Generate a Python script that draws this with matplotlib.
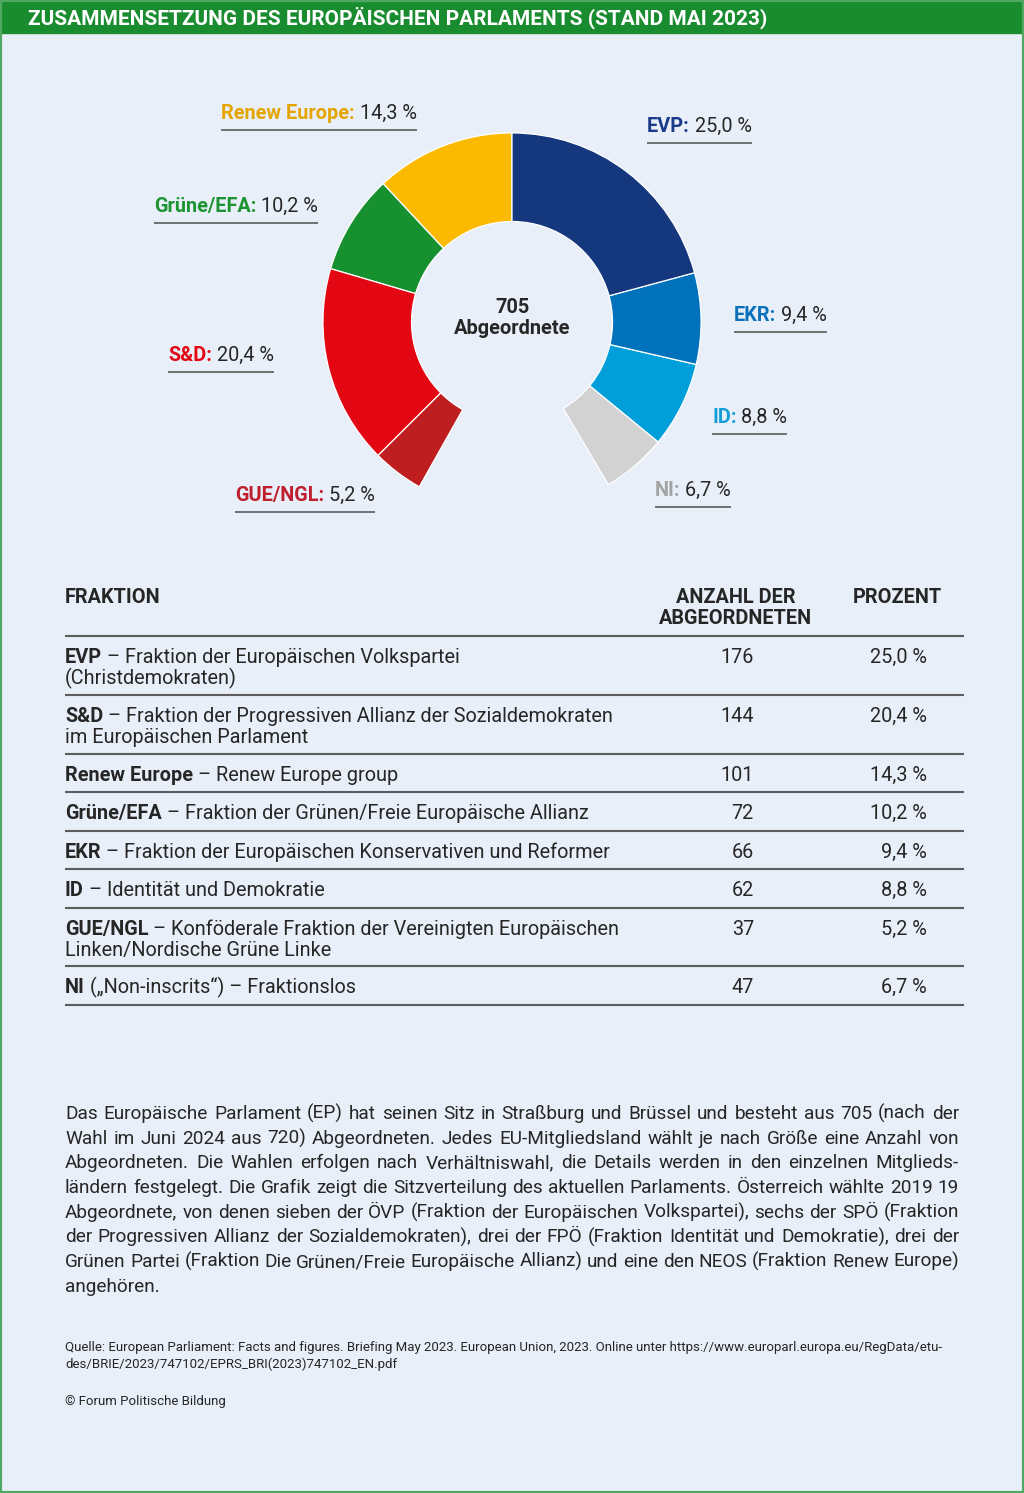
import matplotlib
matplotlib.use("Agg")
import matplotlib.pyplot as plt

# ---------------- data ----------------
parties = ["EVP", "S&D", "Renew Europe", "Grüne/EFA", "EKR", "ID", "GUE/NGL", "NI"]
seats = [176, 144, 101, 72, 66, 62, 37, 47]
percents = ["25,0 %", "20,4 %", "14,3 %", "10,2 %", "9,4 %", "8,8 %", "5,2 %", "6,7 %"]
total_label = ["705", "Abgeordnete"]
table_desc = [
    ["– Fraktion der Europäischen Volkspartei", "(Christdemokraten)"],
    ["– Fraktion der Progressiven Allianz der Sozialdemokraten", "im Europäischen Parlament"],
    ["– Renew Europe group"],
    ["– Fraktion der Grünen/Freie Europäische Allianz"],
    ["– Fraktion der Europäischen Konservativen und Reformer"],
    ["– Identität und Demokratie"],
    ["– Konföderale Fraktion der Vereinigten Europäischen", "Linken/Nordische Grüne Linke"],
    ["(„Non-inscrits“) – Fraktionslos"],
]
table_headers = ["FRAKTION", "ANZAHL DER\nABGEORDNETEN", "PROZENT"]
title = "ZUSAMMENSETZUNG DES EUROPÄISCHEN PARLAMENTS (STAND MAI 2023)"
body_lines = [
    "Das Europäische Parlament (EP) hat seinen Sitz in Straßburg und Brüssel und besteht aus 705 (nach der",
    "Wahl im Juni 2024 aus 720) Abgeordneten. Jedes EU-Mitgliedsland wählt je nach Größe eine Anzahl von",
    "Abgeordneten. Die Wahlen erfolgen nach Verhältniswahl, die Details werden in den einzelnen Mitglieds-",
    "ländern festgelegt. Die Grafik zeigt die Sitzverteilung des aktuellen Parlaments. Österreich wählte 2019 19",
    "Abgeordnete, von denen sieben der ÖVP (Fraktion der Europäischen Volkspartei), sechs der SPÖ (Fraktion",
    "der Progressiven Allianz der Sozialdemokraten), drei der FPÖ (Fraktion Identität und Demokratie), drei der",
    "Grünen Partei (Fraktion Die Grünen/Freie Europäische Allianz) und eine den NEOS (Fraktion Renew Europe)",
    "angehören.",
]
source_lines = [
    "Quelle: European Parliament: Facts and figures. Briefing May 2023. European Union, 2023. Online unter https://www.europarl.europa.eu/RegData/etu-",
    "des/BRIE/2023/747102/EPRS_BRI(2023)747102_EN.pdf",
]
copyright_text = "© Forum Politische Bildung"

# ---------------- styles ----------------
W, H, DPI = 1024, 1493, 100
FONT = ["Roboto", "DejaVu Sans"]
BG = "#E9EFF9"
GREEN = "#1A8C30"
DARK = "#262626"
RULE = "#5C5C5C"

wedge_colors = {"EVP": "#14377D", "S&D": "#E30613", "Renew Europe": "#FBBA00",
                "Grüne/EFA": "#17902F", "EKR": "#0071BB", "ID": "#009FDA",
                "GUE/NGL": "#BE1E20", "NI": "#D2D2D2"}
label_colors = {"EVP": "#1A3A8A", "S&D": "#E30613", "Renew Europe": "#E5A500",
                "Grüne/EFA": "#1C9432", "EKR": "#0A72BA", "ID": "#129FD9",
                "GUE/NGL": "#BE1E2D", "NI": "#A3A3A3"}
# label anchor: (left x, underline y) in px
label_pos = {"EVP": (647, 143), "S&D": (168, 372), "Renew Europe": (221, 130),
             "Grüne/EFA": (154, 223), "EKR": (734, 332), "ID": (712, 434),
             "GUE/NGL": (235, 512), "NI": (655, 507)}
# counter-clockwise order from the top, None = open gap at the bottom
ring_order = ["Renew Europe", "Grüne/EFA", "S&D", "GUE/NGL", None, "NI", "ID", "EKR", "EVP"]
GAP_DEG = 60
CX, CY, R_OUT, R_IN = 512, 322, 190, 101

fig = plt.figure(figsize=(W / DPI, H / DPI), dpi=DPI)
fig.patch.set_facecolor(BG)
ax = fig.add_axes([0, 0, 1, 1])
ax.set_xlim(0, W)
ax.set_ylim(H, 0)
ax.axis("off")
renderer = fig.canvas.get_renderer()


def tw(s, size, weight="normal"):
    t = ax.text(0, 0, s, fontsize=size, fontweight=weight, family=FONT)
    w = t.get_window_extent(renderer).width
    t.remove()
    return w


def space_w(size, weight="normal"):
    return tw("n n", size, weight) - tw("nn", size, weight)


def rich(x, y, parts, size):
    sp = space_w(size)
    for i, (s, weight, color) in enumerate(parts):
        ax.text(x, y, s, fontsize=size, fontweight=weight, color=color,
                family=FONT, ha="left", va="baseline")
        x += tw(s, size, weight)
        if i < len(parts) - 1:
            x += sp
    return x


# ---------------- header bar & frame ----------------
ax.add_patch(plt.Rectangle((0, 0), W, 33, color=GREEN, zorder=1))
ax.text(28, 24.5, title, fontsize=15.0, fontweight="bold", color="white",
        family=FONT, ha="left", va="baseline")
ax.add_patch(plt.Rectangle((1, 1), W - 2.5, H - 2.5, fill=False, ec="#4FA862", lw=1.6, zorder=5))

# ---------------- donut ----------------
total = sum(seats)
gap_val = total * GAP_DEG / (360 - GAP_DEG)
vals, cols = [], []
for p in ring_order:
    if p is None:
        vals.append(gap_val)
        cols.append("none")
    else:
        vals.append(seats[parties.index(p)])
        cols.append(wedge_colors[p])

pax = fig.add_axes([(CX - R_OUT) / W, 1 - (CY + R_OUT) / H, 2 * R_OUT / W, 2 * R_OUT / H])
wedges, _ = pax.pie(vals, colors=cols, startangle=90, counterclock=True, radius=1,
                    wedgeprops=dict(width=(R_OUT - R_IN) / R_OUT, edgecolor="white", linewidth=0.9))
wedges[ring_order.index(None)].set_visible(False)
pax.set_xlim(-1.005, 1.005)
pax.set_ylim(-1.005, 1.005)
pax.axis("off")

ax.text(CX, 313, total_label[0], fontsize=14.4, fontweight="bold", color=DARK,
        family=FONT, ha="center", va="baseline")
ax.text(CX, 334, total_label[1], fontsize=14.4, fontweight="bold", color=DARK,
        family=FONT, ha="center", va="baseline")

# labels
for p, pct in zip(parties, percents):
    x0, uy = label_pos[p]
    x1 = rich(x0, uy - 11, [(p + ":", "bold", label_colors[p]), (pct, "normal", DARK)], 14.3)
    ax.plot([x0, x1], [uy, uy], color="#666666", lw=1.3, solid_capstyle="butt")

# ---------------- table ----------------
TS = 14.3
TL, TR = 65, 964
NUM_R, PCT_R = 754, 927
ax.text(TL, 603, table_headers[0], fontsize=TS, fontweight="bold", color=DARK,
        family=FONT, ha="left", va="baseline")
for i, line in enumerate(table_headers[1].split("\n")):
    ax.text(735.5, 603 + 21 * i, line, fontsize=TS, fontweight="bold", color=DARK,
            family=FONT, ha="center", va="baseline")
ax.text(897, 603, table_headers[2], fontsize=TS, fontweight="bold", color=DARK,
        family=FONT, ha="center", va="baseline")

rules_y = [636, 695, 754, 792, 831, 869, 908, 966, 1005]
table_order = ["EVP", "S&D", "Renew Europe", "Grüne/EFA", "EKR", "ID", "GUE/NGL", "NI"]
for y in rules_y:
    ax.plot([TL, TR], [y, y], color=RULE, lw=1.5, solid_capstyle="butt")
for r, p in enumerate(table_order):
    i = parties.index(p)
    y = rules_y[r] + 27
    rich(TL, y, [(p, "bold", DARK), (table_desc[i][0], "normal", DARK)], TS)
    for k, extra in enumerate(table_desc[i][1:]):
        ax.text(TL, y + 21 * (k + 1), extra, fontsize=TS, color=DARK, family=FONT,
                ha="left", va="baseline")
    ax.text(NUM_R, y, str(seats[i]), fontsize=TS, color=DARK, family=FONT,
            ha="right", va="baseline")
    ax.text(PCT_R, y, percents[i], fontsize=TS, color=DARK, family=FONT,
            ha="right", va="baseline")

# ---------------- body text (justified) ----------------
BS = 13.7
BL, BR = 65, 959
for n, line in enumerate(body_lines):
    y = 1119 + 24.7 * n
    words = line.split(" ")
    widths = [tw(w_, BS) for w_ in words]
    if n < len(body_lines) - 1 and len(words) > 1:
        gap = (BR - BL - sum(widths)) / (len(words) - 1)
    else:
        gap = space_w(BS)
    x = BL
    for w_, wd in zip(words, widths):
        ax.text(x, y, w_, fontsize=BS, color=DARK, family=FONT, ha="left", va="baseline")
        x += wd + gap

# ---------------- source ----------------
SS = 9.52
for n, line in enumerate(source_lines):
    ax.text(65, 1351 + 17 * n, line, fontsize=SS, color=DARK, family=FONT,
            ha="left", va="baseline")
ax.text(65, 1405, copyright_text, fontsize=SS, color=DARK, family=FONT,
        ha="left", va="baseline")

fig.savefig("out.png", dpi=DPI, facecolor=BG)
